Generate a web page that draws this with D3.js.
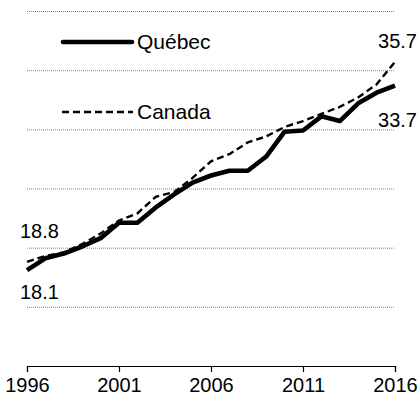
<!DOCTYPE html>
<html>
<head>
<meta charset="utf-8">
<script src="https://cdn.jsdelivr.net/npm/d3@7/dist/d3.min.js"></script>
<style>
  html, body { margin: 0; padding: 0; background: #fff; }
  svg { display: block; font-family: "Liberation Sans", Arial, sans-serif; }
</style>
</head>
<body>
<script>
const years = [1996,1997,1998,1999,2000,2001,2002,2003,2004,2005,2006,2007,2008,2009,2010,2011,2012,2013,2014,2015,2016];
const quebec = [18.1,19.1,19.5,20.1,20.8,22.1,22.1,23.4,24.5,25.5,26.1,26.5,26.5,27.7,29.8,29.9,31.1,30.7,32.2,33.1,33.7];
const canada = [18.8,19.3,19.6,20.3,21.2,22.3,22.9,24.3,24.7,25.9,27.3,27.9,28.9,29.4,30.2,30.7,31.3,31.9,32.7,33.8,35.7];
const gridValues = [15,20,25,30,35,40];
const xTickYears = [1996,2001,2006,2011,2016];
const seriesNames = ["Québec","Canada"];

const W = 420, H = 403;
const svg = d3.select("body").append("svg").attr("width", W).attr("height", H);

const x = d3.scaleLinear().domain([1996, 2016]).range([27, 395]);
const y = d3.scaleLinear().domain([10, 40]).range([366, 11]);

// gridlines
svg.append("g").selectAll("line").data(gridValues).join("line")
  .attr("x1", x(1996)).attr("x2", x(2016))
  .attr("y1", d => y(d) + 0.5).attr("y2", d => y(d) + 0.5)
  .attr("stroke", "#808080").attr("stroke-width", 1).attr("stroke-dasharray", "1,1");

// x axis
const xAxis = d3.axisBottom(x).tickValues(xTickYears).tickFormat(d3.format("d")).tickSizeOuter(0).tickSize(6).tickPadding(6);
const gx = svg.append("g").attr("transform", `translate(0,${y(10)})`).call(xAxis);
gx.select(".domain").attr("stroke", "#000").attr("stroke-width", 1.2);
gx.selectAll(".tick line").attr("stroke", "#000").attr("stroke-width", 1.2).attr("transform", "translate(0,0)");
gx.selectAll(".tick text").attr("font-size", 20).attr("fill", "#000")
  .attr("font-family", "Liberation Sans, Arial, sans-serif");

const line = d3.line().x((d, i) => x(years[i])).y(d => y(d));

svg.append("path").datum(canada).attr("d", line)
  .attr("fill", "none").attr("stroke", "#000").attr("stroke-width", 2.4)
  .attr("stroke-dasharray", "7,4");

svg.append("path").datum(quebec).attr("d", line)
  .attr("fill", "none").attr("stroke", "#000").attr("stroke-width", 4.6)
  .attr("stroke-linejoin", "round");

// legend
const lg = svg.append("g");
lg.append("line").attr("x1", 63).attr("x2", 132).attr("y1", 42).attr("y2", 42)
  .attr("stroke", "#000").attr("stroke-width", 4.6).attr("stroke-linecap", "round");
lg.append("text").attr("x", 137).attr("y", 49).attr("font-size", 21).text(seriesNames[0]);
lg.append("line").attr("x1", 62).attr("x2", 133).attr("y1", 112).attr("y2", 112)
  .attr("stroke", "#000").attr("stroke-width", 2.4).attr("stroke-dasharray", "7,4");
lg.append("text").attr("x", 137).attr("y", 119).attr("font-size", 21).text(seriesNames[1]);

// value labels
const fmt = d3.format(".1f");
const lab = svg.append("g").attr("font-size", 20).attr("fill", "#000");
lab.append("text").attr("x", 417).attr("y", 48).attr("text-anchor", "end").text(fmt(canada[canada.length-1]));
lab.append("text").attr("x", 417).attr("y", 127).attr("text-anchor", "end").text(fmt(quebec[quebec.length-1]));
lab.append("text").attr("x", 20).attr("y", 238).text(fmt(canada[0]));
lab.append("text").attr("x", 20).attr("y", 299).text(fmt(quebec[0]));
</script>
</body>
</html>
